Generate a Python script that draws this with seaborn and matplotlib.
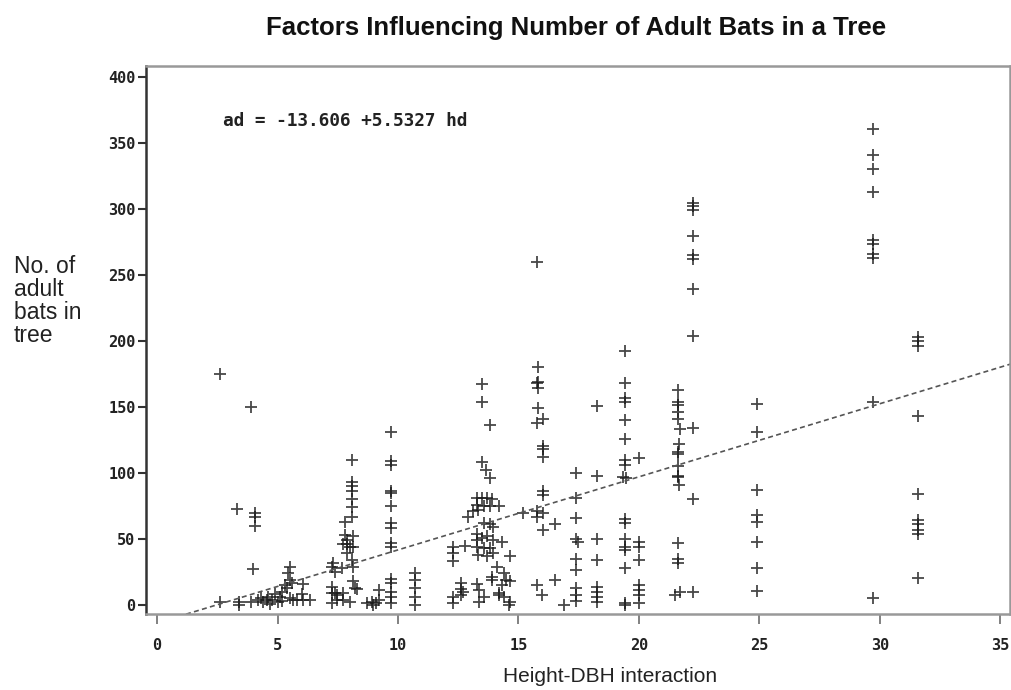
import matplotlib
matplotlib.use("Agg")
import matplotlib.pyplot as plt
import seaborn as sns
import numpy as np
import pandas as pd

# ---- data (hd = Height-DBH interaction, ad = adult bats) ----
hd = [2.6, 2.6,
      3.3, 3.4, 3.4,
      3.9, 3.9, 4.0, 4.07, 4.07, 4.07,
      4.2, 4.3, 4.55, 4.6, 4.75, 5.0, 5.1, 5.2, 5.3, 5.4, 5.5, 5.5, 5.6, 5.5, 5.65, 5.8,
      6.06, 6.06, 6.35, 4.4, 4.9, 5.45, 5.2, 4.7, 6.0,
      7.25, 7.25, 7.25, 7.25, 7.45, 7.3, 7.4, 7.4, 7.45,
      8.08, 8.08, 8.08, 8.08, 8.08, 8.08, 8.08, 7.8, 7.8, 7.7, 7.87, 8.0, 8.13, 7.87, 8.13,
      7.9, 8.08, 8.13, 7.66, 8.13, 8.2, 8.3, 7.7, 7.7, 8.0,
      8.7, 8.9, 9.1, 9.2, 9.2, 8.97,
      9.7, 9.7, 9.7, 9.7, 9.7, 9.7, 9.7, 9.7, 9.7, 9.7, 9.7, 9.7, 9.7, 9.7, 9.7,
      10.7, 10.7, 10.7, 10.7, 10.7,
      12.3, 12.3, 12.3, 12.3, 12.3, 12.6, 12.6, 12.8, 12.6, 12.7,
      13.5, 13.5, 13.8, 13.5, 13.65, 13.8, 13.27, 13.5, 13.7, 13.9, 13.27, 13.55, 13.8, 14.2,
      13.1, 13.3, 12.9, 13.55, 13.8, 13.27, 13.27, 13.47, 13.7, 13.95, 13.27, 13.55, 13.8,
      14.3, 13.3, 13.7, 13.95, 14.65, 14.1, 13.9, 14.4, 14.5, 14.65, 13.27, 13.35, 13.55,
      13.35, 14.2, 14.4, 14.65, 13.9, 14.3, 13.95, 14.6, 14.2,
      15.2,
      15.75, 15.8, 15.8, 15.75, 15.8, 15.8, 16.0, 15.75, 16.0, 16.0, 16.0, 16.0, 16.0,
      15.75, 16.0, 15.75, 16.0, 16.5, 15.75, 15.96, 16.9, 16.5,
      17.4, 17.4, 17.4, 17.4, 17.45, 17.4, 17.4, 17.4, 17.4, 17.4,
      18.25, 18.25, 18.25, 18.25, 18.25, 18.25, 18.25, 18.25,
      19.4, 19.4, 19.4, 19.4, 19.4, 19.4, 19.4, 19.4, 19.35, 19.45, 19.4, 19.4, 19.4, 19.4,
      19.4, 19.4, 19.4, 19.4,
      20.0, 20.0, 20.0, 20.0, 20.0, 20.0, 20.0, 20.0,
      21.6, 21.6, 21.6, 21.6, 21.6, 21.7, 21.65, 21.6, 21.6, 21.6, 21.6, 21.6, 21.65, 21.6,
      21.6, 21.6, 21.5, 21.7,
      22.25, 22.25, 22.25, 22.25, 22.25, 22.25, 22.25, 22.25, 22.25, 22.25, 22.25,
      24.9, 24.9, 24.9, 24.9, 24.9, 24.9, 24.9, 24.9,
      29.7, 29.7, 29.7, 29.7, 29.7, 29.7, 29.7, 29.7, 29.7, 29.7,
      31.6, 31.6, 31.6, 31.6, 31.6, 31.6, 31.6, 31.6, 31.6, 31.6]

ad = [175, 2,
      73, 0, 2,
      150, 2, 27, 70, 67, 60,
      4, 5, 4, 6, 4, 2, 6, 10, 15, 13, 29, 19, 17, 5, 4, 4,
      16, 4, 4, 2, 8, 24, 3, 1, 8,
      29, 14, 9, 1.5, 7.5, 32, 25, 9, 4,
      110, 93, 90, 86, 80, 74, 67, 63, 53, 46, 46, 44, 44, 49, 52,
      39, 34, 29, 28, 18, 13, 12, 9, 4, 2.5,
      1.5, 2.5, 1.5, 11, 4, 0,
      131, 109, 106, 86, 85, 75, 62, 58, 47, 44, 20, 17, 10, 6, 1.5,
      24, 19, 13, 6, 0,
      44, 39, 33, 6, 1.5, 17, 12, 45, 7.5, 10,
      167, 154, 136, 108, 102, 96, 81, 81, 81, 80, 76, 75, 75, 75,
      71, 72, 67, 62, 61, 54, 49, 51, 52, 49, 44, 43, 43,
      48, 38, 37, 39, 37, 29, 21, 24, 19, 18, 16, 11, 6,
      2.5, 9, 6, 2.5, 19, 15, 59, 0, 7.5,
      70,
      260, 180, 169, 168, 164, 149, 141, 138, 120, 118, 112, 86, 83,
      71, 70, 67, 57, 61, 15, 7.5, 0, 19,
      100, 81, 66, 50, 48, 35, 26.5, 13, 7.5, 3,
      151, 98, 50, 34, 14, 10, 6, 2.5,
      192, 168, 157, 154, 140, 126, 110, 106, 97, 96, 65, 62, 50, 44,
      42, 28, 1.2, 0,
      111, 48, 44, 34, 15, 11, 7.5, 1.2,
      163, 154, 151.5, 146, 141, 133, 122, 116, 114, 105, 98, 97, 91, 47,
      35, 32, 7.5, 10,
      304, 302, 299, 279, 265, 262, 239, 204, 134, 80, 10,
      152, 131, 87, 68, 63, 48, 28, 10.6,
      360, 341, 330, 313, 276.5, 273.5, 266, 262.6, 154, 5.5,
      203, 200, 196, 143, 84, 64, 61, 57, 54, 20.7]

fit_intercept = -13.606
fit_slope = 5.5327

x_ticks = [0, 5, 10, 15, 20, 25, 30, 35]
y_ticks = [0, 50, 100, 150, 200, 250, 300, 350, 400]

title = "Factors Influencing Number of Adult Bats in a Tree"
x_label = "Height-DBH interaction"
y_label = "No. of\nadult\nbats in\ntree"
equation = "ad = -13.606 +5.5327 hd"

# ---- plotting ----
sns.set_theme(style="white")
plt.rcParams['font.family'] = ['Liberation Sans', 'DejaVu Sans']

df = pd.DataFrame({"hd": hd, "ad": ad})

fig = plt.figure(figsize=(10.12, 6.90), dpi=100)
ax = fig.add_axes([146 / 1012, 1 - 614 / 690, (1010 - 146) / 1012, (614 - 66) / 690])

sns.scatterplot(data=df, x="hd", y="ad", marker="+", s=75, color="#1a1a1a",
                linewidth=1.3, alpha=0.8, ax=ax, legend=False)

line_x = np.array([1.2, 35.6])
line_df = pd.DataFrame({"hd": line_x, "ad": fit_intercept + fit_slope * line_x})
sns.lineplot(data=line_df, x="hd", y="ad", ax=ax, color="#555555", linewidth=1.2,
             dashes=False, linestyle=(0, (3, 2)), legend=False)

ax.set_xlim(-0.46, 35.4)
ax.set_ylim(-6.8, 408)
ax.set_xticks(x_ticks)
ax.set_yticks(y_ticks)
ax.set_xlabel("")
ax.set_ylabel("")

tick_font = dict(family="DejaVu Sans Mono", weight="bold", size=11)
ax.set_xticklabels([str(t) for t in x_ticks], fontdict=tick_font, color="#222222")
ax.set_yticklabels([str(t) for t in y_ticks], fontdict=tick_font, color="#222222")
ax.tick_params(axis="x", direction="out", length=7, width=1.3, color="#777777", pad=10, bottom=True)
ax.tick_params(axis="y", direction="out", length=6, width=1.5, color="#333333", pad=1.5, left=True)

for side, sp in ax.spines.items():
    sp.set_visible(True)
    sp.set_linewidth(1.8)
    sp.set_color("#999999")
ax.spines["left"].set_color("#333333")

ax.text(2.74, 366, equation, fontfamily="DejaVu Sans Mono", fontweight="bold",
        fontsize=12.8, color="#222222", va="center", ha="left")

fig.text(576 / 1012, 1 - 28 / 690, title, ha="center", va="center",
         fontsize=18.5, fontweight="bold", color="#111111")
fig.text(610 / 1012, 1 - 677 / 690, x_label, ha="center", va="center",
         fontsize=15, color="#222222")
fig.text(14 / 1012, 1 - 255 / 690, y_label, ha="left", va="top",
         fontsize=16.5, color="#222222", linespacing=1.0)

fig.savefig("out.png", dpi=100, facecolor="white")
